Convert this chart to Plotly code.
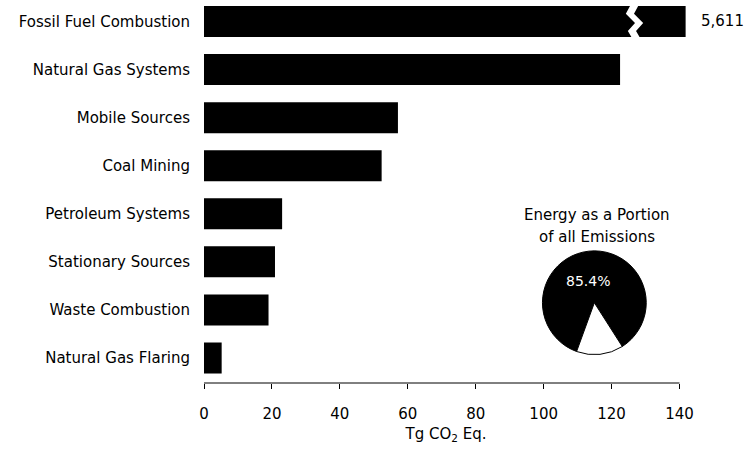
import plotly.graph_objects as go

# Energy sector emissions, Tg CO2 Eq.
categories = [
    "Fossil Fuel Combustion",
    "Natural Gas Systems",
    "Mobile Sources",
    "Coal Mining",
    "Petroleum Systems",
    "Stationary Sources",
    "Waste Combustion",
    "Natural Gas Flaring",
]
# fossil fuel combustion is drawn on a broken axis (real value in fossil_actual)
values = [141.8, 122.5, 57.1, 52.3, 23.0, 20.9, 19.0, 5.2]
fossil_actual = 5611
x_ticks = [0, 20, 40, 60, 80, 100, 120, 140]

pie_labels = ["Energy", "Other"]
pie_values = [85.4, 14.6]

FONT = "DejaVu Sans, Verdana, sans-serif"
BLACK = "#000000"

ypos = list(range(len(categories)))

fig = go.Figure()

fig.add_trace(go.Bar(
    x=values,
    y=ypos,
    orientation="h",
    width=0.645,
    marker=dict(color=BLACK, line=dict(width=0)),
    hoverinfo="skip",
    showlegend=False,
))

fig.add_trace(go.Pie(
    labels=pie_labels,
    values=pie_values,
    sort=False,
    direction="clockwise",
    rotation=200,
    marker=dict(colors=[BLACK, "#ffffff"], line=dict(color=BLACK, width=1)),
    textinfo="none",
    domain=dict(x=[0.699, 0.914], y=[0.074, 0.345]),
    hoverinfo="skip",
    showlegend=False,
))

# share label inside the pie
fig.add_annotation(x=0.794, y=0.239, xref="paper", yref="paper",
                   text=f"{pie_values[0]}%", showarrow=False, xanchor="center",
                   font=dict(size=14, color="#ffffff", family=FONT))

# axis break on the fossil fuel bar
bx = 125.7
zig = [(0.0, -0.36), (-1.5, -0.16), (1.2, 0.03), (-0.9, 0.2), (0.6, 0.38)]
band = 2.4
left = [(bx + dx, yy) for dx, yy in zig]
right = [(bx + dx + band, yy) for dx, yy in reversed(zig)]
pts = left + right
path = "M " + " L ".join(f"{px},{py}" for px, py in pts) + " Z"

fig.add_shape(type="path", path=path, xref="x", yref="y",
              fillcolor="#ffffff", line=dict(width=0))

# x axis line only up to the last tick
fig.add_shape(type="line", xref="x", yref="paper",
              x0=x_ticks[0], x1=x_ticks[-1], y0=0, y1=0,
              line=dict(color=BLACK, width=1))

fig.add_annotation(x=values[0], y=0, xref="x", yref="y",
                   text=f"{fossil_actual:,}", showarrow=False,
                   xanchor="left", xshift=13,
                   font=dict(size=15, color=BLACK, family=FONT))

fig.add_annotation(x=0.811, y=0.439, xref="paper", yref="paper",
                   text="Energy as a Portion", showarrow=False, xanchor="center",
                   font=dict(size=15, color=BLACK, family=FONT))
fig.add_annotation(x=0.811, y=0.381, xref="paper", yref="paper",
                   text="of all Emissions", showarrow=False, xanchor="center",
                   font=dict(size=15, color=BLACK, family=FONT))

fig.update_layout(
    width=749,
    height=459,
    margin=dict(l=204, r=61, t=0, b=76, autoexpand=False),
    plot_bgcolor="#ffffff",
    paper_bgcolor="#ffffff",
    font=dict(family=FONT, color=BLACK, size=15),
    xaxis=dict(
        range=[0, 142.5],
        tickvals=x_ticks,
        ticks="outside",
        ticklen=5,
        tickcolor=BLACK,
        showline=False,
        showgrid=False,
        zeroline=False,
        automargin=False,
        ticklabelstandoff=12,
        tickfont=dict(size=15),
        title=dict(text="Tg CO<sub>2</sub> Eq.", font=dict(size=15), standoff=6),
    ),
    yaxis=dict(
        range=[7.52, -0.447],
        tickvals=ypos,
        ticktext=categories,
        ticks="",
        showline=False,
        showgrid=False,
        zeroline=False,
        automargin=False,
        ticklabelstandoff=13,
        tickfont=dict(size=15),
    ),
)

# drop the default page margin so the chart sits at the window's corner
fig.write_html(
    "out.html",
    config={"displayModeBar": False, "staticPlot": True},
    post_script="document.body.style.margin='0';",
)
